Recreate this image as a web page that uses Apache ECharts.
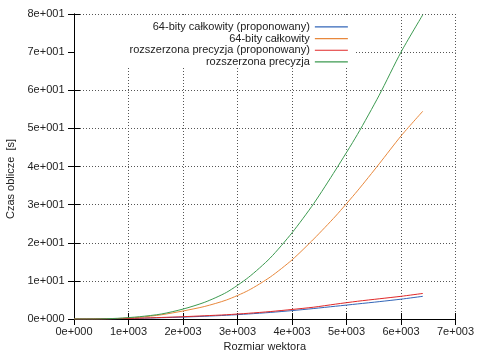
<!DOCTYPE html>
<html>
<head>
<meta charset="utf-8">
<script src="https://cdn.jsdelivr.net/npm/echarts@6/dist/echarts.min.js"></script>
<style>
  html, body { margin: 0; padding: 0; background: #fff; }
  #chart { width: 477px; height: 353px; }
</style>
</head>
<body>
<div id="chart"></div>
<script>
// Vector sizes (x) and computation times in seconds for each method
const sizes = [0, 400, 800, 1200, 1600, 2000, 2400, 2800, 3200, 3600, 4000, 4400, 4800, 5200, 5600, 6000, 6400];
const int64Proposed = [0, 0.02, 0.08, 0.18, 0.33, 0.5, 0.72, 0.98, 1.32, 1.72, 2.2, 2.75, 3.35, 3.95, 4.55, 5.2, 5.95];
const int64 = [0, 0.02, 0.13, 0.45, 1.1, 2.1, 3.3, 5.0, 7.5, 11.0, 15.5, 21.0, 27.0, 33.6, 40.7, 48.0, 54.5];
const extPrecProposed = [0, 0.02, 0.1, 0.22, 0.4, 0.6, 0.85, 1.12, 1.5, 1.95, 2.5, 3.1, 3.9, 4.65, 5.3, 5.95, 6.7];
const extPrec = [0, 0.02, 0.18, 0.6, 1.3, 2.6, 4.4, 7.0, 10.9, 16.0, 22.6, 30.3, 39.1, 48.4, 58.7, 70.0, 79.8];

const seriesNames = [
  '64-bity całkowity (proponowany)',
  '64-bity całkowity',
  'rozszerzona precyzja (proponowany)',
  'rozszerzona precyzja'
];
const seriesValues = [int64Proposed, int64, extPrecProposed, extPrec];
const seriesColors = ['#3366b8', '#e8883c', '#e02828', '#3c9a50'];

const xTicks = { min: 0, max: 7000, step: 1000 };
const yTicks = { min: 0, max: 80, step: 10 };

// gnuplot-style scientific labels: 1e+003, 8e+001, 0e+000
function sci(v) {
  if (v === 0) return '0e+000';
  const e = Math.floor(Math.log10(Math.abs(v)) + 1e-9);
  const m = Math.round(v / Math.pow(10, e));
  const sign = e < 0 ? '-' : '+';
  return m + 'e' + sign + String(Math.abs(e)).padStart(3, '0');
}

const FONT = 'Liberation Sans, Arial, sans-serif';
const TXT = '#222';

const chart = echarts.init(document.getElementById('chart'), null, { renderer: 'canvas' });

const gridLine = { show: true, lineStyle: { color: '#555', width: 1, type: [1, 2] } };
const borderLine = { show: true, lineStyle: { color: '#000', width: 1 } };
const innerTick = { show: true, inside: true, length: 6, lineStyle: { color: '#000', width: 1 } };

chart.setOption({
  animation: false,
  backgroundColor: '#fff',
  grid: { left: 74, right: 21.5, top: 14, bottom: 34, containLabel: false, outerBoundsMode: 'none' },
  legend: {
    data: seriesNames.map((name) => ({ name, icon: 'rect' })),
    orient: 'vertical',
    align: 'right',
    left: 75,
    top: 15,
    padding: [6, 7, 0, 54.5],
    itemGap: 0,
    itemWidth: 33,
    itemHeight: 1.2,
    backgroundColor: '#fff',
    textStyle: { fontFamily: FONT, fontSize: 11, color: TXT, lineHeight: 11.7 },
    selectedMode: false
  },
  xAxis: [
    {
      type: 'value', position: 'bottom',
      min: xTicks.min, max: xTicks.max, interval: xTicks.step,
      name: 'Rozmiar wektora', nameLocation: 'middle', nameGap: 21,
      nameTextStyle: { fontFamily: FONT, fontSize: 11, color: TXT },
      axisLine: borderLine, axisTick: innerTick,
      axisLabel: { formatter: sci, margin: 7, fontFamily: FONT, fontSize: 11, color: TXT, showMinLabel: true, showMaxLabel: true },
      splitLine: gridLine
    },
    {
      type: 'value', position: 'top',
      min: xTicks.min, max: xTicks.max, interval: xTicks.step,
      axisLine: borderLine, axisTick: innerTick,
      axisLabel: { show: false }, splitLine: { show: false }
    }
  ],
  yAxis: [
    {
      type: 'value', position: 'left',
      min: yTicks.min, max: yTicks.max, interval: yTicks.step,
      name: 'Czas oblicze  [s]', nameLocation: 'middle', nameGap: 49,
      nameTextStyle: { fontFamily: FONT, fontSize: 11, color: TXT, padding: [0, 25, 0, 0] },
      axisLine: borderLine, axisTick: innerTick,
      axisLabel: { formatter: sci, margin: 9.5, fontFamily: FONT, fontSize: 11, color: TXT, showMinLabel: true, showMaxLabel: true },
      splitLine: gridLine
    },
    {
      type: 'value', position: 'right',
      min: yTicks.min, max: yTicks.max, interval: yTicks.step,
      axisLine: borderLine, axisTick: innerTick,
      axisLabel: { show: false }, splitLine: { show: false }
    }
  ],
  series: seriesNames.map((name, i) => ({
    name,
    type: 'line',
    xAxisIndex: 0,
    yAxisIndex: 0,
    data: sizes.map((x, k) => [x, seriesValues[i][k]]),
    symbol: 'none',
    smooth: 0.25,
    clip: true,
    color: seriesColors[i],
    lineStyle: { color: seriesColors[i], width: 1 },
    z: 2 + i
  }))
});
</script>
</body>
</html>
